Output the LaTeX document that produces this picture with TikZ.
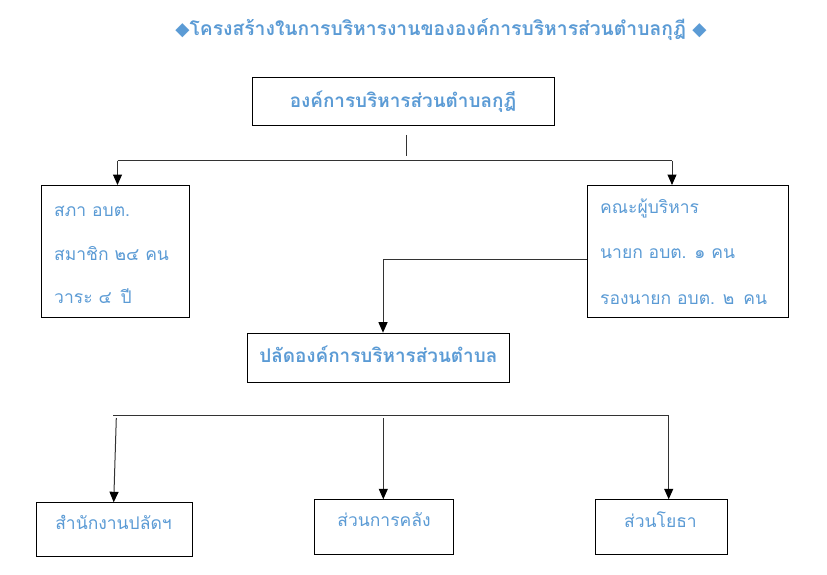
\documentclass[tikz,border=0pt]{standalone}
\usepackage{fontspec}
\newfontfamily\thai[Script=Thai]{Loma}
\newfontfamily\symfont{DejaVu Sans}
\usetikzlibrary{arrows.meta}
\definecolor{tblue}{HTML}{5B9BD5}
\begin{document}
\begin{tikzpicture}[x=1pt,y=-1pt,
  box/.style={draw=black, line width=1.1pt, inner sep=0pt, anchor=north west},
  ltxt/.style={font=\thai\fontsize{17.5}{20}\selectfont, text=tblue, inner sep=0pt},
  btxt/.style={font=\thai\bfseries\fontsize{18.9}{21}\selectfont, text=tblue, inner sep=0pt},
  ttxt/.style={font=\thai\bfseries\fontsize{19.3}{22}\selectfont, text=tblue, inner sep=0pt},
  conn/.style={line width=1pt, draw=black!80},
  arr/.style={conn, -{Triangle[width=9pt,length=10.5pt,color=black,fill=black]}}]
\useasboundingbox (0,0) rectangle (827,575);
\fill[white] (0,0) rectangle (827,575);
% title
\node[ttxt, anchor=base] (title) at (441,36) {{\symfont\fontsize{18.5}{21}\selectfont ◆}โครงสร้างในการบริหารงานขององค์การบริหารส่วนตำบลกุฎี {\symfont\fontsize{18.5}{21}\selectfont ◆}};
% boxes
\node[box, minimum width=302pt, minimum height=48pt] (top) at (252,77) {};
\node[box, minimum width=148pt, minimum height=132pt] (sapa) at (41,185) {};
\node[box, minimum width=201pt, minimum height=132pt] (exec) at (587,185) {};
\node[box, minimum width=262pt, minimum height=49pt] (palad) at (247.3,332.7) {};
\node[box, minimum width=156.6pt, minimum height=53.7pt] (office) at (35.7,502.3) {};
\node[box, minimum width=139.6pt, minimum height=54.4pt] (finance) at (313.7,499.3) {};
\node[box, minimum width=132pt, minimum height=54.4pt] (works) at (595,499.3) {};
% texts
\node[btxt, anchor=base] (toptxt) at (403,108) {องค์การบริหารส่วนตำบลกุฎี};
\node[ltxt, anchor=base west] (sapa1) at (54,216) {สภา อบต.};
\node[ltxt, anchor=base west] (sapa2) at (54,260) {สมาชิก ๒๔ คน};
\node[ltxt, anchor=base west] (sapa3) at (54,303) {วาระ ๔\hspace{3pt} ปี};
\node[ltxt, anchor=base west] (exec1) at (600,213) {คณะผู้บริหาร};
\node[ltxt, anchor=base west] (exec2) at (600,258) {นายก อบต. ๑ คน};
\node[ltxt, anchor=base west] (exec3) at (600,304) {รองนายก อบต. ๒\hspace{3pt} คน};
\node[btxt, anchor=base] (paladtxt) at (378.3,362.7) {ปลัดองค์การบริหารส่วนตำบล};
\node[ltxt, anchor=base] (officetxt) at (113.5,529.3) {สำนักงานปลัดฯ};
\node[ltxt, anchor=base] (financetxt) at (384,526.7) {ส่วนการคลัง};
\node[ltxt, anchor=base] (workstxt) at (660.5,527.7) {ส่วนโยธา};
% connectors
\coordinate (s1) at (406.7,135);
\coordinate (s2) at (406.7,156);
\draw[conn] (s1) -- (s2);
\coordinate (hl) at (117.5,160.5);
\coordinate (hr) at (672,160.5);
\draw[conn] (hl) -- (hr);
\draw[arr] (hl) -- (hl |- sapa.north);
\draw[arr] (hr) -- (hr |- exec.north);
\coordinate (e1) at (587,259);
\coordinate (pn) at (383,332.7);
\draw[arr] (e1) -| (pn);
\coordinate (bl) at (113.3,415.7);
\coordinate (br) at (668.7,415.7);
\draw[arr] (bl) -- (br) -- (br |- works.north);
\coordinate (a1) at (116.3,418);
\coordinate (a2) at (113.7,502.3);
\draw[arr] (a1) -- (a2);
\coordinate (m1) at (383.3,418);
\draw[arr] (m1) -- (m1 |- finance.north);
\end{tikzpicture}
\end{document}
